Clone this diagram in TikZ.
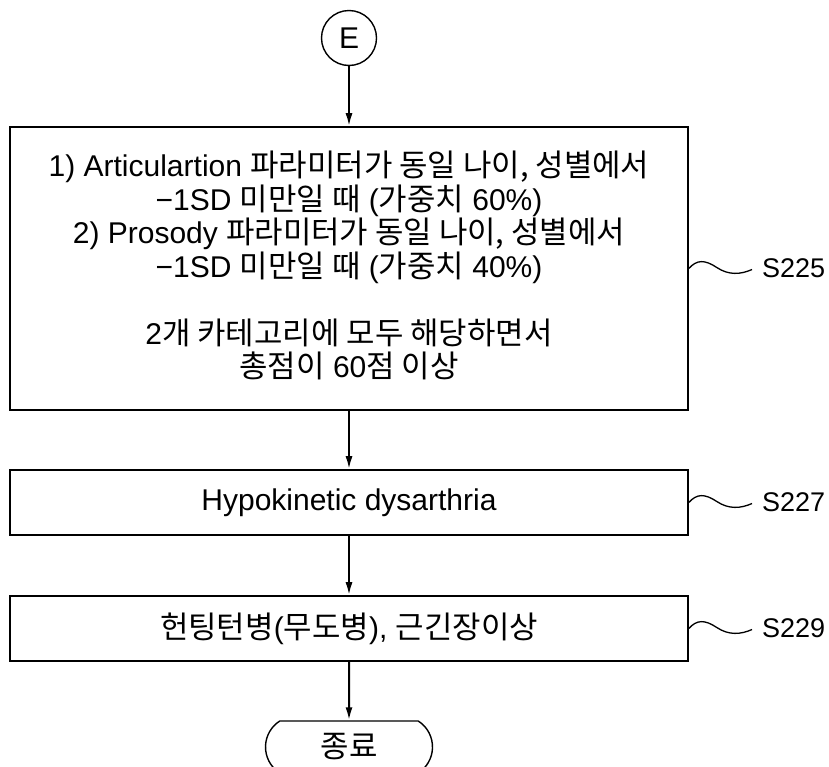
\documentclass[tikz,border=0pt]{standalone}
\usepackage{fontspec}
\setmainfont{Liberation Sans}
\newfontfamily\kr[Scale=1.03]{Noto Sans CJK KR}
\usetikzlibrary{arrows.meta,shapes.misc,calc}

\begin{document}
\begin{tikzpicture}[x=1pt,y=-1pt,
  every node/.style={font=\fontsize{30}{33.5}\selectfont},
  stepbox/.style={draw, line width=1.6pt, minimum width=678, inner sep=0pt, align=center},
  flow/.style={line width=2pt, -{Latex[length=13pt,width=7pt]}},
  wave/.style={line width=1.3pt},
  tag/.style={anchor=west, inner sep=0pt, font=\fontsize{27}{30}\selectfont}]
\useasboundingbox (0,0) rectangle (829,766);

% start connector and process steps
\node[circle, draw, line width=1.4pt, minimum size=55, inner sep=0pt] (e) at (349,38) {E};

\node[stepbox, minimum height=283] (b1) at (349,268.5) {};
\node[align=center, inner sep=0pt] (b1text) at ($(b1.center)+(0,-3)$)
  {1) Articulartion {\kr 파라미터가 동일 나이, 성별에서}\\
   −1SD {\kr 미만일 때} ({\kr 가중치} 60\%)\\
   2) Prosody {\kr 파라미터가 동일 나이, 성별에서}\\
   −1SD {\kr 미만일 때} ({\kr 가중치} 40\%)\\[33.5pt]
   2{\kr 개 카테고리에 모두 해당하면서}\\
   {\kr 총점이} 60{\kr 점 이상}};

\node[stepbox, minimum height=65] (b2) at (349,502.5) {Hypokinetic dysarthria};

\node[stepbox, minimum height=65] (b3) at (349,628.5)
  {{\kr 헌팅턴병}({\kr 무도병}), {\kr 근긴장이상}};

\node[rounded rectangle, rounded rectangle arc length=115, draw, line width=1.4pt,
      minimum width=167, minimum height=52, inner sep=0pt] (end) at (349,747) {\kr 종료};

% flow arrows
\draw[flow] (e) -- (b1);
\draw[flow] (b1) -- (b2);
\draw[flow] (b2) -- (b3);
\draw[flow] (b3) -- (end);

% step labels with wavy leaders
\node[tag] (t1) at (762,268.5) {S225};
\node[tag] (t2) at (762,502.5) {S227};
\node[tag] (t3) at (762,628.5) {S229};

\foreach \b/\t in {b1/t1, b2/t2, b3/t3}{
  \draw[wave] (\b.east)
    .. controls ($(\b.east)+(8,-9)$) and ($(\b.east)+(16,-9)$) .. ($(\b.east)+(28,-1)$)
    .. controls ($(\b.east)+(40,7)$) and ($(\b.east)+(52,6)$) .. ($(\t.west)+(-10,1)$);
}
\end{tikzpicture}
\end{document}
